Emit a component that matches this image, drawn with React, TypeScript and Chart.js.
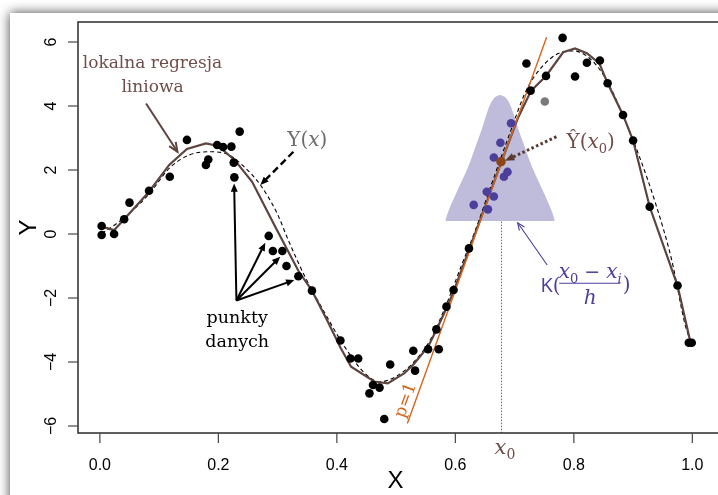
import { useEffect, useRef } from "react";
import { Chart, registerables } from "chart.js";

Chart.register(...registerables);

const W = 718;
const H = 495;

// ---- axes ----
const xTickValues = [0, 0.2, 0.4, 0.6, 0.8, 1.0];
const xTickLabels = ["0.0", "0.2", "0.4", "0.6", "0.8", "1.0"];
const yTickValues = [-6, -4, -2, 0, 2, 4, 6];
const yTickLabels = ["−6", "−4", "−2", "0", "2", "4", "6"];
const X_MIN = -0.0369;
const X_MAX = 1.0352;
const Y_MIN = -6.219;
const Y_MAX = 6.625;

// ---- data points (black) ----
const dataX = [
  0.003, 0.003, 0.024, 0.041, 0.05, 0.083, 0.118, 0.147, 0.179, 0.183, 0.198, 0.208, 0.222,
  0.236, 0.226, 0.227, 0.285, 0.292, 0.308, 0.315, 0.335, 0.358, 0.406, 0.423, 0.436, 0.461,
  0.455, 0.472, 0.48, 0.49, 0.529, 0.532, 0.554, 0.572, 0.568, 0.585, 0.597, 0.623, 0.727,
  0.72, 0.753, 0.781, 0.802, 0.822, 0.844, 0.857, 0.883, 0.9, 0.928, 0.975, 0.994, 0.999,
];
const dataY = [
  0.25, -0.03, 0.0, 0.46, 0.98, 1.35, 1.79, 2.94, 2.16, 2.33, 2.78, 2.72, 2.73,
  3.2, 2.23, 1.77, -0.06, -0.53, -0.53, -1.0, -1.32, -1.77, -3.33, -3.89, -3.89, -4.72,
  -4.98, -4.8, -5.78, -4.08, -3.65, -4.27, -3.6, -3.6, -2.98, -2.27, -1.75, -0.45, 4.48,
  5.33, 4.94, 6.13, 4.92, 5.35, 5.42, 4.71, 3.72, 2.92, 0.85, -1.61, -3.4, -3.4,
];

// ---- points inside the kernel window (blue) ----
const windowX = [0.694, 0.676, 0.665, 0.688, 0.682, 0.653, 0.665, 0.631, 0.655];
const windowY = [3.46, 2.85, 2.39, 1.94, 1.79, 1.32, 1.17, 0.91, 0.77];

// ---- grey point ----
const greyX = [0.751];
const greyY = [4.14];

// ---- local linear regression fit ----
const fitX = [
  0.003, 0.024, 0.041, 0.083, 0.117, 0.147, 0.179, 0.2, 0.228, 0.257, 0.296, 0.335, 0.358,
  0.385, 0.406, 0.424, 0.463, 0.486, 0.514, 0.53, 0.554, 0.568, 0.585, 0.597, 0.623, 0.642,
  0.678, 0.705, 0.728, 0.753, 0.782, 0.802, 0.822, 0.843, 0.857, 0.883, 0.9, 0.928, 0.975, 0.997,
];
const fitY = [
  0.23, 0.12, 0.46, 1.32, 2.16, 2.66, 2.83, 2.75, 2.3, 1.63, 0.23, -1.15, -1.77,
  -2.75, -3.55, -4.15, -4.61, -4.67, -4.35, -4.06, -3.52, -3.0, -2.32, -1.8, -0.5, 0.44,
  2.26, 3.6, 4.48, 4.94, 5.68, 5.8, 5.65, 5.33, 4.71, 3.72, 2.92, 0.85, -1.61, -3.4,
];

// ---- true function Y(x) ----
const trueX = [
  0.003, 0.017, 0.05, 0.084, 0.117, 0.151, 0.184, 0.212, 0.24, 0.271, 0.299, 0.318, 0.346,
  0.38, 0.413, 0.447, 0.472, 0.5, 0.53, 0.558, 0.586, 0.61, 0.635, 0.66, 0.69, 0.72, 0.745,
  0.779, 0.8, 0.826, 0.854, 0.882, 0.91, 0.938, 0.965, 0.988, 0.997,
];
const trueY = [
  0.02, 0.18, 0.65, 1.27, 2.05, 2.47, 2.57, 2.52, 2.16, 1.53, 0.65, -0.19, -1.33,
  -2.48, -3.52, -4.35, -4.62, -4.45, -4.0, -3.3, -2.15, -1.0, 0.18, 1.5, 3.05, 4.5, 5.2,
  5.68, 5.72, 5.5, 4.85, 3.75, 2.45, 0.95, -0.8, -2.85, -3.35,
];

// ---- local line (p = 1) at x0 ----
const p1X = [0.519, 0.754];
const p1Y = [-5.92, 6.15];

// ---- kernel weights outline ----
const kernelX = [
  0.583, 0.588, 0.6, 0.613, 0.625, 0.635, 0.645, 0.654, 0.66, 0.666, 0.6715, 0.6755,
  0.6795, 0.685, 0.691, 0.697, 0.706, 0.716, 0.726, 0.738, 0.751, 0.763, 0.768,
];
const kernelY = [
  0.41, 0.7, 1.22, 1.74, 2.26, 2.78, 3.3, 3.82, 4.1, 4.26, 4.32, 4.34,
  4.32, 4.26, 4.1, 3.82, 3.3, 2.78, 2.26, 1.74, 1.22, 0.7, 0.41,
];
const kernelBase = 0.41;

// ---- target point ----
const x0 = 0.677;
const yHat0 = 2.26;

// ---- colours ----
const BROWN_LINE = "#5d443e";
const BROWN_TEXT = "#6f4d48";
const BLUE = "#4b3f9b";
const KERNEL_FILL = "#bfbbdb";
const ORANGE = "#d4661c";
const POINT_BROWN = "#8b4516";

const SERIF = '"DejaVu Serif", serif';
const SANS = '"Liberation Sans", Arial, sans-serif';

type Run = { t: string; f: string; dy?: number };

function runsWidth(ctx: CanvasRenderingContext2D, runs: Run[]) {
  let w = 0;
  for (const r of runs) {
    ctx.font = r.f;
    w += ctx.measureText(r.t).width;
  }
  return w;
}

function drawRuns(
  ctx: CanvasRenderingContext2D,
  runs: Run[],
  x: number,
  y: number,
  align: "left" | "center"
) {
  let cx = align === "center" ? x - runsWidth(ctx, runs) / 2 : x;
  ctx.textAlign = "left";
  ctx.textBaseline = "alphabetic";
  for (const r of runs) {
    ctx.font = r.f;
    ctx.fillText(r.t, cx, y + (r.dy || 0));
    cx += ctx.measureText(r.t).width;
  }
}

function arrow(
  ctx: CanvasRenderingContext2D,
  x1: number,
  y1: number,
  x2: number,
  y2: number,
  color: string,
  width: number,
  dash: number[],
  head: number,
  filled: boolean
) {
  ctx.save();
  ctx.strokeStyle = color;
  ctx.fillStyle = color;
  ctx.lineWidth = width;
  ctx.lineCap = "butt";
  const a = Math.atan2(y2 - y1, x2 - x1);
  const back = filled ? head * 0.7 : 0;
  ctx.setLineDash(dash);
  ctx.beginPath();
  ctx.moveTo(x1, y1);
  ctx.lineTo(x2 - Math.cos(a) * back, y2 - Math.sin(a) * back);
  ctx.stroke();
  ctx.setLineDash([]);
  const s = 0.4;
  const ax = x2 - head * Math.cos(a - s);
  const ay = y2 - head * Math.sin(a - s);
  const bx = x2 - head * Math.cos(a + s);
  const by = y2 - head * Math.sin(a + s);
  ctx.beginPath();
  if (filled) {
    ctx.moveTo(x2, y2);
    ctx.lineTo(ax, ay);
    ctx.lineTo(bx, by);
    ctx.closePath();
    ctx.fill();
  } else {
    ctx.moveTo(ax, ay);
    ctx.lineTo(x2, y2);
    ctx.lineTo(bx, by);
    ctx.stroke();
  }
  ctx.restore();
}

const decorPlugin = {
  id: "decor",
  beforeDraw(chart: any) {
    const ctx: CanvasRenderingContext2D = chart.ctx;
    ctx.save();
    ctx.fillStyle = "#ffffff";
    ctx.fillRect(0, 0, W, H);
    ctx.shadowColor = "rgba(0,0,0,0.75)";
    ctx.shadowBlur = 11;
    ctx.fillRect(10, 13, W + 60, H + 60);
    ctx.restore();
  },
  beforeDatasetsDraw(chart: any) {
    const ctx: CanvasRenderingContext2D = chart.ctx;
    const xs = chart.scales.x;
    const ys = chart.scales.y;
    const X = Math.round(xs.getPixelForValue(x0)) + 0.5;
    ctx.save();
    ctx.strokeStyle = "#8a6458";
    ctx.lineWidth = 1;
    ctx.setLineDash([1.5, 1.5]);
    ctx.beginPath();
    ctx.moveTo(X, ys.getPixelForValue(yHat0));
    ctx.lineTo(X, chart.chartArea.bottom);
    ctx.stroke();
    ctx.restore();
  },
  afterDatasetsDraw(chart: any) {
    const ctx: CanvasRenderingContext2D = chart.ctx;
    const xs = chart.scales.x;
    const ys = chart.scales.y;
    const { left, top, right, bottom } = chart.chartArea;
    const at = (x: number, y: number): [number, number] => [
      xs.getPixelForValue(x),
      ys.getPixelForValue(y),
    ];

    ctx.save();
    // box
    ctx.strokeStyle = "#2b2b2b";
    ctx.lineWidth = 1.5;
    ctx.beginPath();
    ctx.moveTo(right + 5, top);
    ctx.lineTo(left, top);
    ctx.lineTo(left, bottom);
    ctx.lineTo(right + 5, bottom);
    ctx.stroke();

    // x ticks
    ctx.strokeStyle = "#444";
    ctx.lineWidth = 1.2;
    ctx.fillStyle = "#000";
    ctx.font = `16px ${SANS}`;
    ctx.textAlign = "center";
    ctx.textBaseline = "alphabetic";
    xTickValues.forEach((v, i) => {
      const X = xs.getPixelForValue(v);
      ctx.beginPath();
      ctx.moveTo(X, bottom);
      ctx.lineTo(X, bottom + 10);
      ctx.stroke();
      ctx.fillText(xTickLabels[i], X, bottom + 37);
    });
    // y ticks
    yTickValues.forEach((v, i) => {
      const Y = ys.getPixelForValue(v);
      ctx.beginPath();
      ctx.moveTo(left - 10, Y);
      ctx.lineTo(left, Y);
      ctx.stroke();
      ctx.save();
      ctx.translate(left - 22, Y);
      ctx.rotate(-Math.PI / 2);
      ctx.textAlign = "center";
      ctx.fillText(yTickLabels[i], 0, 0);
      ctx.restore();
    });
    // axis titles
    ctx.font = `24px ${SANS}`;
    ctx.textAlign = "center";
    ctx.fillText("X", (left + right) / 2, bottom + 55);
    ctx.save();
    ctx.translate(36, (top + bottom) / 2);
    ctx.rotate(-Math.PI / 2);
    ctx.fillText("Y", 0, 0);
    ctx.restore();

    // x0 label under axis
    ctx.fillStyle = BROWN_TEXT;
    drawRuns(
      ctx,
      [
        { t: "x", f: `italic 21px ${SERIF}` },
        { t: "0", f: `14px ${SERIF}`, dy: 5 },
      ],
      xs.getPixelForValue(x0) + 4,
      bottom + 21,
      "center"
    );

    // "lokalna regresja liniowa"
    ctx.fillStyle = BROWN_TEXT;
    ctx.font = `17px ${SERIF}`;
    ctx.textAlign = "center";
    let p = at(0.0888, 5.19);
    ctx.fillText("lokalna regresja", p[0], p[1]);
    p = at(0.0888, 4.44);
    ctx.fillText("liniowa", p[0], p[1]);
    let a = at(0.078, 4.08);
    let b = at(0.131, 2.57);
    arrow(ctx, a[0], a[1], b[0], b[1], BROWN_LINE, 2, [], 10, false);

    // "Y(x)"
    ctx.fillStyle = "#6b6b6b";
    p = at(0.3162, 2.75);
    drawRuns(
      ctx,
      [
        { t: "Y", f: `20px ${SERIF}` },
        { t: "(", f: `20px ${SERIF}` },
        { t: "x", f: `italic 20px ${SERIF}` },
        { t: ")", f: `20px ${SERIF}` },
      ],
      p[0],
      p[1],
      "left"
    );
    a = at(0.3266, 2.57);
    b = at(0.2709, 1.53);
    arrow(ctx, a[0], a[1], b[0], b[1], "#000", 2.4, [7, 4], 9, true);

    // "punkty danych"
    ctx.fillStyle = "#000";
    ctx.font = `17.5px ${SERIF}`;
    ctx.textAlign = "center";
    p = at(0.2318, -2.77);
    ctx.fillText("punkty", p[0], p[1]);
    p = at(0.2318, -3.52);
    ctx.fillText("danych", p[0], p[1]);
    const origin = at(0.2305, -2.08);
    const tips: [number, number][] = [
      [0.2266, 1.58],
      [0.2792, -0.27],
      [0.3044, -0.71],
      [0.3283, -1.44],
    ];
    tips.forEach(([tx, ty]) => {
      const t = at(tx, ty);
      arrow(ctx, origin[0], origin[1], t[0], t[1], "#000", 2, [], 9, true);
    });

    // "Ŷ(x0)"
    ctx.fillStyle = BROWN_TEXT;
    p = at(0.7875, 2.69);
    drawRuns(
      ctx,
      [
        { t: "Ŷ", f: `20px ${SERIF}` },
        { t: "(", f: `20px ${SERIF}` },
        { t: "x", f: `italic 20px ${SERIF}` },
        { t: "0", f: `13px ${SERIF}`, dy: 5 },
        { t: ")", f: `20px ${SERIF}` },
      ],
      p[0],
      p[1],
      "left"
    );
    a = at(0.7705, 3.04);
    b = at(0.684, 2.29);
    arrow(ctx, a[0], a[1], b[0], b[1], "#5a3a30", 3, [2.5, 2.5], 10, true);

    // K((x0 - xi)/h)
    ctx.fillStyle = BLUE;
    p = at(0.7437, -1.8);
    drawRuns(
      ctx,
      [
        { t: "K", f: `20px "Open Sans", ${SANS}` },
        { t: "(", f: `20px ${SERIF}` },
      ],
      p[0],
      p[1],
      "left"
    );
    p = at(0.8275, -1.375);
    drawRuns(
      ctx,
      [
        { t: "x", f: `italic 20px ${SERIF}` },
        { t: "0", f: `13px ${SERIF}`, dy: 5 },
        { t: " − ", f: `19px ${SERIF}` },
        { t: "x", f: `italic 20px ${SERIF}` },
        { t: "i", f: `italic 13px ${SERIF}`, dy: 5 },
      ],
      p[0],
      p[1],
      "center"
    );
    a = at(0.7752, -1.54);
    b = at(0.8784, -1.54);
    ctx.strokeStyle = BLUE;
    ctx.lineWidth = 1.2;
    ctx.beginPath();
    ctx.moveTo(a[0], a[1]);
    ctx.lineTo(b[0], b[1]);
    ctx.stroke();
    p = at(0.8275, -2.1875);
    drawRuns(ctx, [{ t: "h", f: `italic 20px ${SERIF}` }], p[0], p[1], "center");
    p = at(0.8827, -1.78);
    drawRuns(ctx, [{ t: ")", f: `20px ${SERIF}` }], p[0], p[1], "left");
    a = at(0.755, -0.97);
    b = at(0.7052, 0.35);
    arrow(ctx, a[0], a[1], b[0], b[1], BLUE, 1.1, [], 8, false);

    // "p=1"
    const l1 = at(p1X[0], p1Y[0]);
    const l2 = at(p1X[1], p1Y[1]);
    const ang = Math.atan2(l2[1] - l1[1], l2[0] - l1[0]);
    p = at(0.5165, -5.2);
    ctx.save();
    ctx.translate(p[0], p[1]);
    ctx.rotate(ang);
    ctx.fillStyle = ORANGE;
    ctx.font = `17px ${SERIF}`;
    ctx.textAlign = "center";
    ctx.textBaseline = "middle";
    ctx.fillText("p=1", 0, 0);
    ctx.restore();

    ctx.restore();
  },
};

const xy = (xs: number[], ys: number[]) => xs.map((x, i) => ({ x, y: ys[i] }));

export default function App() {
  const ref = useRef<HTMLCanvasElement | null>(null);

  useEffect(() => {
    if (!ref.current) return;
    const chart = new Chart(ref.current, {
      type: "scatter",
      data: {
        datasets: [
          {
            type: "scatter",
            label: "x0",
            data: [{ x: x0, y: yHat0 }],
            pointRadius: 4.8,
            pointBackgroundColor: POINT_BROWN,
            pointBorderWidth: 0,
            order: 1,
          },
          {
            type: "scatter",
            label: "punkty",
            data: xy(dataX, dataY),
            pointRadius: 4.3,
            pointBackgroundColor: "#000",
            pointBorderWidth: 0,
            order: 3,
          },
          {
            type: "scatter",
            label: "okno",
            data: xy(windowX, windowY),
            pointRadius: 4.3,
            pointBackgroundColor: BLUE,
            pointBorderWidth: 0,
            order: 3,
          },
          {
            type: "scatter",
            label: "szary",
            data: xy(greyX, greyY),
            pointRadius: 4.3,
            pointBackgroundColor: "#7a7a7a",
            pointBorderWidth: 0,
            order: 3,
          },
          {
            type: "line",
            label: "p=1",
            data: xy(p1X, p1Y),
            borderColor: ORANGE,
            borderWidth: 1.4,
            pointRadius: 0,
            order: 4,
          },
          {
            type: "line",
            label: "lokalna regresja liniowa",
            data: xy(fitX, fitY),
            borderColor: BROWN_LINE,
            borderWidth: 2.2,
            pointRadius: 0,
            tension: 0,
            order: 5,
          },
          {
            type: "line",
            label: "Y(x)",
            data: xy(trueX, trueY),
            borderColor: "#000",
            borderWidth: 1.1,
            borderDash: [4, 3],
            pointRadius: 0,
            cubicInterpolationMode: "monotone",
            order: 6,
          },
          {
            type: "line",
            label: "K",
            data: xy(kernelX, kernelY),
            borderWidth: 0,
            borderColor: "rgba(0,0,0,0)",
            backgroundColor: KERNEL_FILL,
            fill: { value: kernelBase },
            pointRadius: 0,
            cubicInterpolationMode: "monotone",
            order: 7,
          },
        ] as any,
      },
      options: {
        responsive: false,
        animation: false,
        devicePixelRatio: 1,
        events: [],
        layout: { padding: { left: 78, top: 22, right: 0, bottom: 62 } },
        scales: {
          x: { type: "linear", min: X_MIN, max: X_MAX, display: false },
          y: { type: "linear", min: Y_MIN, max: Y_MAX, display: false },
        },
        plugins: {
          legend: { display: false },
          tooltip: { enabled: false },
        },
      } as any,
      plugins: [decorPlugin],
    });
    return () => chart.destroy();
  }, []);

  return (
    <div style={{ position: "fixed", left: 0, top: 0, width: W, height: H, background: "#fff" }}>
      <canvas ref={ref} width={W} height={H} style={{ display: "block", width: W, height: H }} />
    </div>
  );
}
